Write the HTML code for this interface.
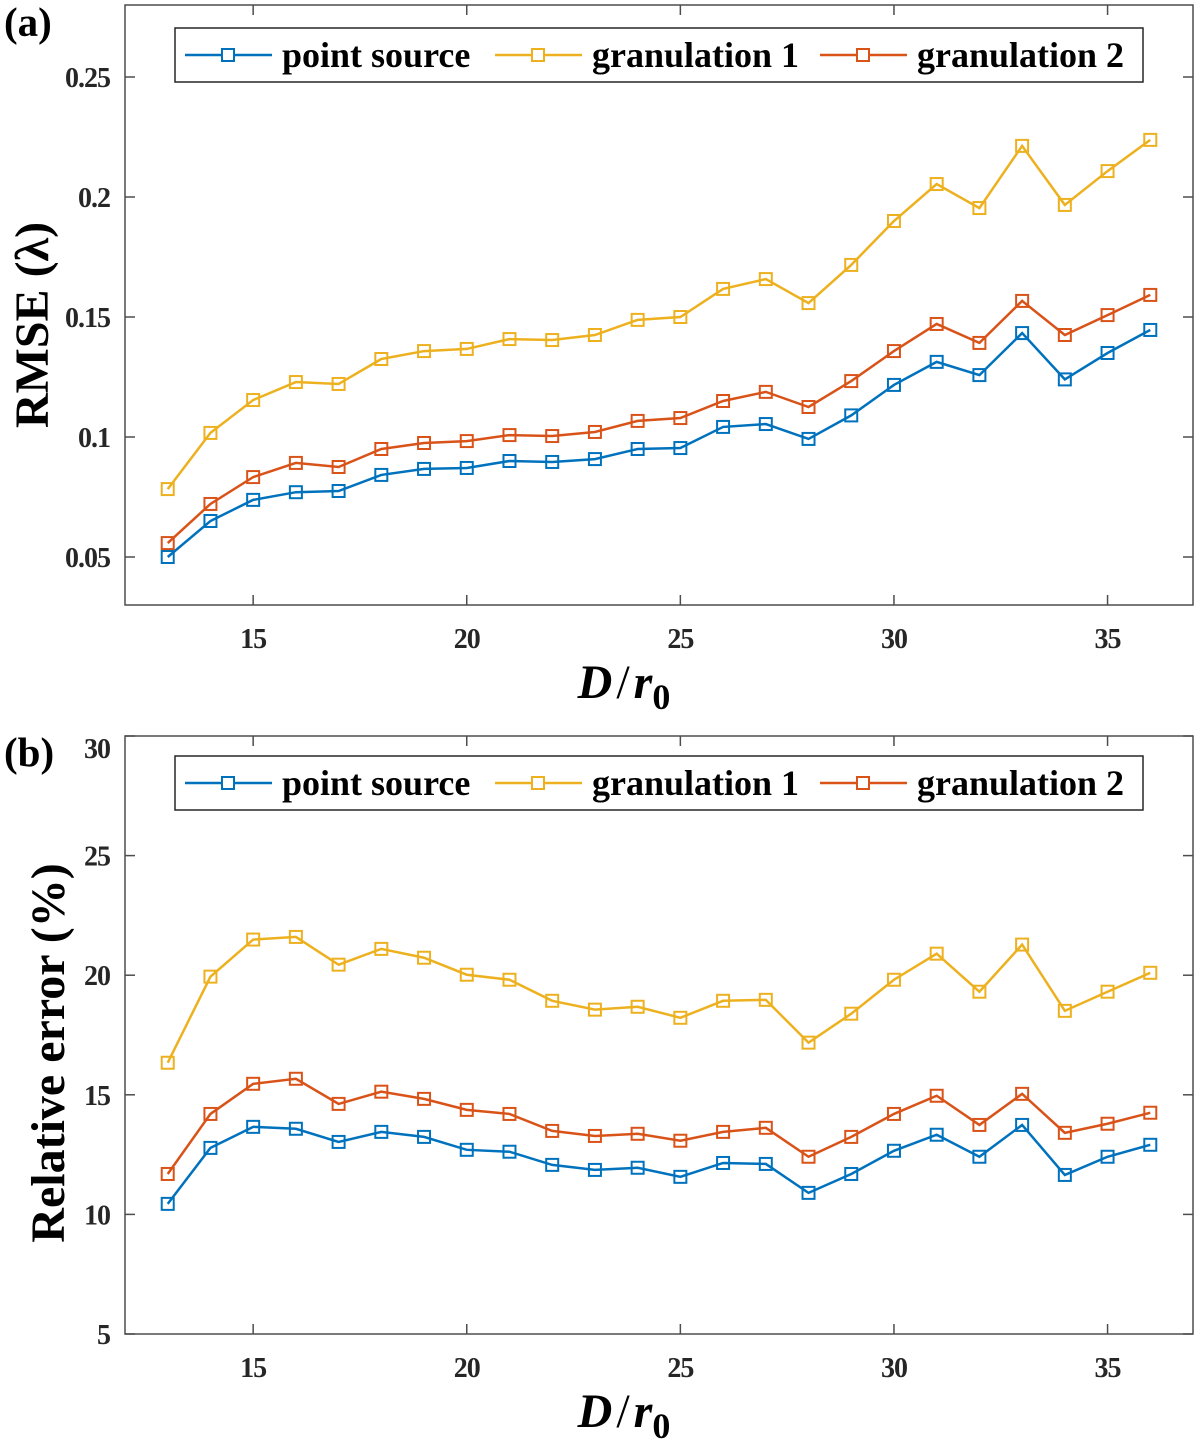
<!DOCTYPE html>
<html><head><meta charset="utf-8"><style>
html,body{margin:0;padding:0;background:#fff;}
svg{display:block;font-family:"Liberation Serif",serif;font-weight:bold;}
</style></head><body>
<svg id="chart" width="1200" height="1452" viewBox="0 0 1200 1452" xmlns="http://www.w3.org/2000/svg"></svg>
<script>
const xCats = [13,14,15,16,17,18,19,20,21,22,23,24,25,26,27,28,29,30,31,32,33,34,35,36];
const xTicks = [15,20,25,30,35];
const aTicks = [0.05,0.1,0.15,0.2,0.25];
const aTickLabels = ["0.05","0.1","0.15","0.2","0.25"];
const bTicks = [5,10,15,20,25,30];
const bTickLabels = ["5","10","15","20","25","30"];
const seriesNames = ["point source","granulation 1","granulation 2"];
const aPoint = [0.050,0.065,0.0738,0.077,0.0775,0.0842,0.0867,0.0871,0.090,0.0896,0.0908,0.095,0.0954,0.1042,0.1054,0.0992,0.109,0.1217,0.1313,0.1258,0.1433,0.124,0.135,0.1446];
const aGran1 = [0.0783,0.1017,0.1154,0.1229,0.1221,0.1325,0.1358,0.1367,0.1408,0.1404,0.1425,0.1488,0.150,0.1617,0.1658,0.1558,0.1717,0.190,0.2054,0.1954,0.2213,0.1967,0.2108,0.2238];
const aGran2 = [0.0558,0.0721,0.0833,0.0892,0.0875,0.095,0.0975,0.0983,0.1008,0.1004,0.1021,0.1067,0.1079,0.115,0.1188,0.1125,0.1233,0.1358,0.1471,0.1392,0.1567,0.1425,0.1508,0.1592];
const bPoint = [10.44,12.78,13.66,13.58,13.03,13.45,13.24,12.70,12.62,12.07,11.86,11.95,11.57,12.15,12.11,10.90,11.69,12.66,13.33,12.41,13.74,11.65,12.41,12.91];
const bGran1 = [16.34,19.94,21.49,21.60,20.44,21.10,20.73,20.02,19.81,18.93,18.56,18.68,18.22,18.93,18.97,17.18,18.39,19.81,20.90,19.31,21.28,18.51,19.31,20.10];
const bGran2 = [11.69,14.20,15.46,15.67,14.62,15.13,14.83,14.37,14.20,13.49,13.28,13.37,13.08,13.45,13.62,12.41,13.24,14.20,14.96,13.74,15.04,13.41,13.79,14.25];
const colors = ["#0072BD","#EDB120","#D95319"];
const NS="http://www.w3.org/2000/svg";
const svg=document.getElementById('chart');
function mk(tag,attrs,parent,text){const e=document.createElementNS(NS,tag);for(const k in attrs)e.setAttribute(k,attrs[k]);if(text!==undefined)e.textContent=text;(parent||svg).appendChild(e);return e;}
const L=125,R=1193;
const xs=v=>L+(v-12)*(R-L)/25;

function panel(p){
  const g=mk('g',{});
  
  
  const ys=v=>p.bot-(v-p.min)*(p.bot-p.top)/(p.max-p.min);
  const box=mk('rect',{x:L,y:p.top,width:R-L,height:p.bot-p.top,fill:'#fff',stroke:'#4d4d4d','stroke-width':1.5},g);
  
  
  xTicks.forEach(t=>{
    const x=xs(t);
    mk('line',{x1:x,x2:x,y1:p.bot,y2:p.bot-10,stroke:'#4d4d4d','stroke-width':1.5},g);
    mk('line',{x1:x,x2:x,y1:p.top,y2:p.top+10,stroke:'#4d4d4d','stroke-width':1.5},g);
    const tl=mk('text',{x:x,y:p.bot+43,'text-anchor':'middle','font-size':28,'letter-spacing':-1,fill:'#262626'},g,String(t));
    
    
  });
  p.ticks.forEach((t,i)=>{
    const y=ys(t);
    mk('line',{x1:L,x2:L+10,y1:y,y2:y,stroke:'#4d4d4d','stroke-width':1.5},g);
    mk('line',{x1:R,x2:R-10,y1:y,y2:y,stroke:'#4d4d4d','stroke-width':1.5},g);
    const yy=(p.name==='panel-b'&&t===30)?y+22:y+10;
    const tl=mk('text',{x:L-15,y:yy,'text-anchor':'end','font-size':28,'letter-spacing':-1,fill:'#262626'},g,p.labels[i]);
    
    
  });
  p.series.forEach((s,si)=>{
    const pts=xCats.map((c,i)=>xs(c)+','+ys(s[i])).join(' ');
    const pl=mk('polyline',{points:pts,fill:'none',stroke:colors[si],'stroke-width':2.5},g);
    
    
    xCats.forEach((c,i)=>{
      const m=mk('rect',{x:xs(c)-6,y:ys(s[i])-6,width:12,height:12,fill:'none',stroke:colors[si],'stroke-width':2},g);
      
      
    });
  });
  const lg=mk('g',{},g);
  
  
  mk('rect',{x:175,y:p.legY,width:968,height:54,fill:'#fff',stroke:'#262626','stroke-width':1.5},lg);
  const lx=[185,495,820];
  seriesNames.forEach((n,i)=>{
    const cy=p.legY+27;
    const e=mk('g',{},lg);
    
    
    mk('line',{x1:lx[i],x2:lx[i]+87,y1:cy,y2:cy,stroke:colors[i],'stroke-width':2.5},e);
    mk('rect',{x:lx[i]+37,y:cy-6,width:12,height:12,fill:'#fff',stroke:colors[i],'stroke-width':2},e);
    mk('text',{x:lx[i]+97,y:cy+12,'font-size':36,fill:'#000'},e,n);
  });
  const pl=mk('text',{x:4,y:p.panelY,'font-size':41,fill:'#000'},g,p.panelLabel);
  
  
  const xt=mk('text',{x:624,y:p.bot+93,'text-anchor':'middle','font-size':48,fill:'#000'},g);
  
  
  mk('tspan',{'font-style':'italic'},xt,'D');
  mk('tspan',{'font-weight':'normal',dx:4},xt,'/');
  mk('tspan',{'font-style':'italic',dx:4},xt,'r');
  mk('tspan',{'font-size':36,dy:11},xt,'0');
  const yt=mk('text',{x:0,y:0,'text-anchor':'middle','font-size':p.ytSize,fill:'#000',transform:`translate(${p.ytX},${p.ytY}) rotate(-90)`},g,p.ytitle);
  
  
}
panel({name:'panel-a',top:5,bot:605,min:0.03,max:0.28,ticks:aTicks,labels:aTickLabels,series:[aPoint,aGran1,aGran2],legY:28,panelY:36,panelLabel:'(a)',ytitle:'RMSE (λ)',ytX:48,ytY:325,ytSize:48});
panel({name:'panel-b',top:736,bot:1334,min:5,max:30,ticks:bTicks,labels:bTickLabels,series:[bPoint,bGran1,bGran2],legY:756,panelY:766,panelLabel:'(b)',ytitle:'Relative error (%)',ytX:64,ytY:1053,ytSize:48});
</script>
</body></html>
